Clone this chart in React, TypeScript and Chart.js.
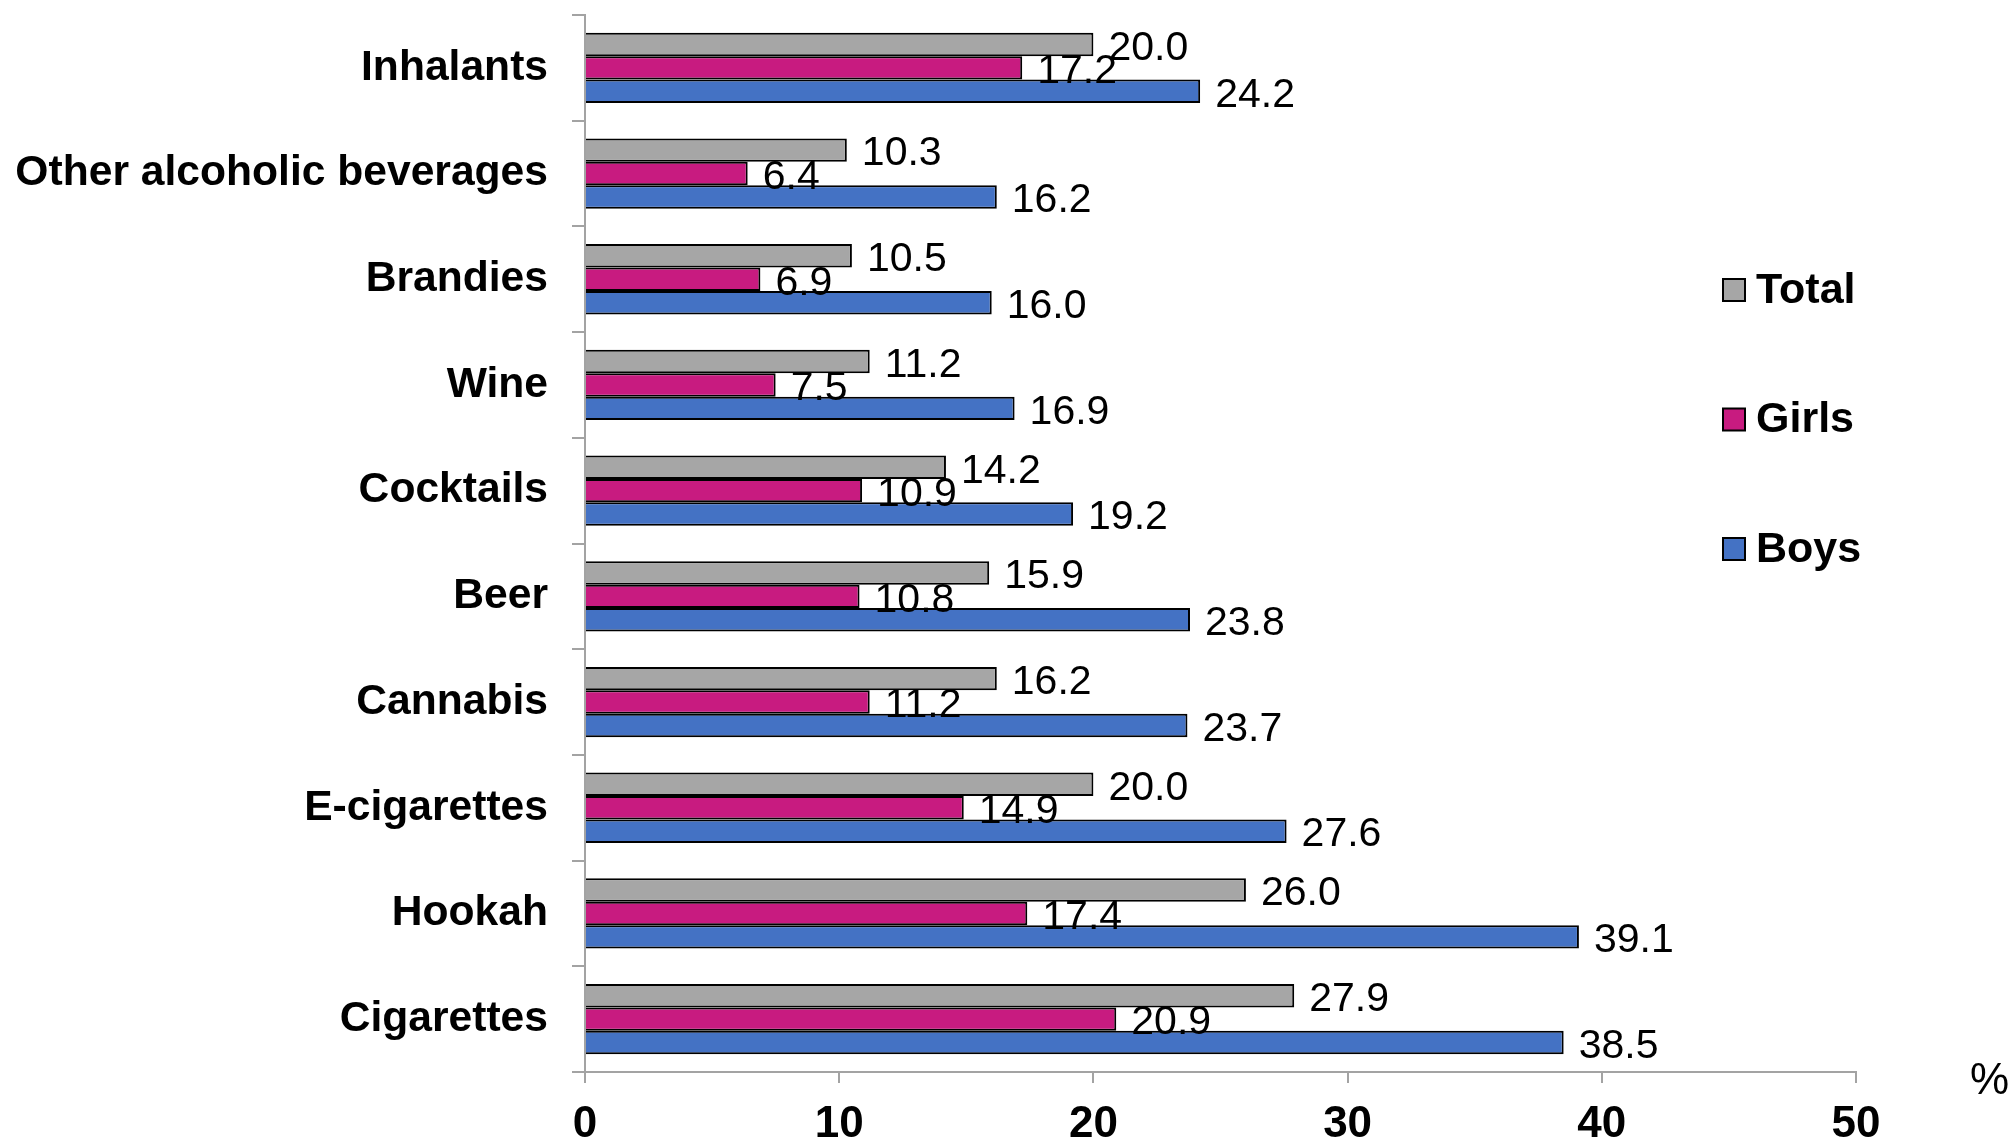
import React, { useEffect, useRef } from "react";
import { Chart, registerables } from "chart.js";

Chart.register(...registerables);

const categories = [
  "Inhalants",
  "Other alcoholic beverages",
  "Brandies",
  "Wine",
  "Cocktails",
  "Beer",
  "Cannabis",
  "E-cigarettes",
  "Hookah",
  "Cigarettes",
];
const seriesNames = ["Total", "Girls", "Boys"];
const totalValues = [20.0, 10.3, 10.5, 11.2, 14.2, 15.9, 16.2, 20.0, 26.0, 27.9];
const girlsValues = [17.2, 6.4, 6.9, 7.5, 10.9, 10.8, 11.2, 14.9, 17.4, 20.9];
const boysValues = [24.2, 16.2, 16.0, 16.9, 19.2, 23.8, 23.7, 27.6, 39.1, 38.5];
const xTickValues = [0, 10, 20, 30, 40, 50];
const unitLabel = "%";

const FONT = "'Liberation Sans', Arial, Helvetica, sans-serif";
const AXIS_GRAY = "#a3a3a3";

const dataLabelPlugin = {
  id: "dataLabels",
  afterDatasetsDraw(chart: any) {
    const ctx = chart.ctx;
    ctx.save();
    ctx.font = `41px ${FONT}`;
    ctx.fillStyle = "#000";
    ctx.textAlign = "left";
    ctx.textBaseline = "middle";
    chart.data.datasets.forEach((ds: any, i: number) => {
      const meta = chart.getDatasetMeta(i);
      meta.data.forEach((el: any, j: number) => {
        const v = ds.data[j];
        ctx.fillText(Number(v).toFixed(1), el.x + 15, el.y + 4);
      });
    });
    ctx.restore();
  },
};

const legendPlugin = {
  id: "customLegend",
  afterDraw(chart: any) {
    const ctx = chart.ctx;
    ctx.save();
    const boxX = 1723;
    const size = 22;
    const startY = 290;
    const step = 129.5;
    chart.data.datasets.forEach((ds: any, i: number) => {
      const cy = startY + i * step;
      ctx.fillStyle = ds.backgroundColor;
      ctx.fillRect(boxX, cy - size / 2, size, size);
      ctx.lineWidth = 2;
      ctx.strokeStyle = "#000";
      ctx.strokeRect(boxX, cy - size / 2, size, size);
      ctx.font = `bold 43px ${FONT}`;
      ctx.fillStyle = "#000";
      ctx.textAlign = "left";
      ctx.textBaseline = "middle";
      ctx.fillText(ds.label, 1756, cy + 1);
    });
    ctx.font = `44px ${FONT}`;
    ctx.textAlign = "left";
    ctx.textBaseline = "middle";
    ctx.fillText(unitLabel, 1970, 1082);
    ctx.restore();
  },
};

export default function App() {
  const canvasRef = useRef<HTMLCanvasElement | null>(null);

  useEffect(() => {
    document.body.style.margin = "0";
    const canvas = canvasRef.current;
    if (!canvas) return;
    const chart = new Chart(canvas, {
      type: "bar",
      data: {
        labels: categories,
        datasets: [
          {
            label: seriesNames[0],
            data: totalValues,
            backgroundColor: "#a6a6a6",
            borderColor: "#000",
            borderWidth: 2,
          },
          {
            label: seriesNames[1],
            data: girlsValues,
            backgroundColor: "#c81b80",
            borderColor: "#000",
            borderWidth: 2,
          },
          {
            label: seriesNames[2],
            data: boysValues,
            backgroundColor: "#4472c4",
            borderColor: "#000",
            borderWidth: 2,
          },
        ],
      },
      options: {
        indexAxis: "y",
        responsive: false,
        animation: false,
        devicePixelRatio: 1,
        layout: { padding: { left: 0, top: 15, right: 155, bottom: 0 } },
        datasets: {
          bar: { categoryPercentage: 0.665, barPercentage: 1.0 },
        },
        plugins: {
          legend: { display: false },
          tooltip: { enabled: false },
        },
        scales: {
          x: {
            type: "linear",
            min: 0,
            max: 50,
            afterBuildTicks(scale: any) {
              scale.ticks = xTickValues.map((v) => ({ value: v }));
            },
            afterFit(scale: any) {
              scale.height = 67;
            },
            ticks: {
              font: { family: FONT, size: 44, weight: "bold" },
              color: "#000",
              padding: 15,
              maxRotation: 0,
            },
            grid: {
              drawOnChartArea: false,
              drawTicks: true,
              tickLength: 11,
              color: AXIS_GRAY,
              lineWidth: 2,
            },
            border: { color: AXIS_GRAY, width: 2 },
          },
          y: {
            type: "category",
            offset: true,
            afterFit(scale: any) {
              scale.width = 585;
              scale.paddingTop = 0;
              scale.paddingBottom = 0;
            },
            ticks: {
              font: { family: FONT, size: 42.6, weight: "bold" },
              color: "#000",
              padding: 24,
            },
            grid: {
              offset: true,
              drawOnChartArea: false,
              drawTicks: true,
              tickLength: 13,
              color: AXIS_GRAY,
              lineWidth: 2,
            },
            border: { color: AXIS_GRAY, width: 2 },
          },
        },
      } as any,
      plugins: [dataLabelPlugin, legendPlugin],
    });
    return () => chart.destroy();
  }, []);

  return (
    <div style={{ width: 2011, height: 1139, background: "#fff" }}>
      <canvas ref={canvasRef} width={2011} height={1139} style={{ display: "block" }} />
    </div>
  );
}
